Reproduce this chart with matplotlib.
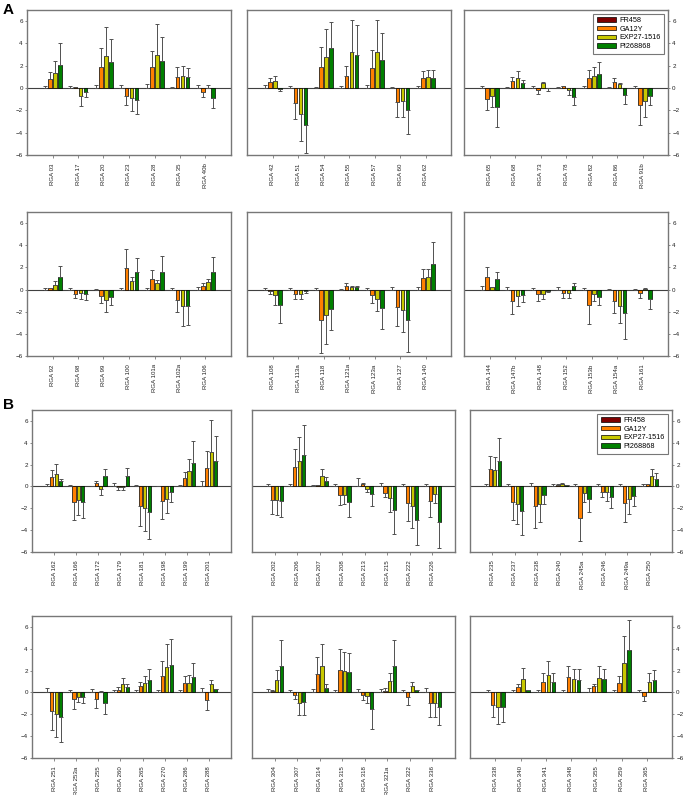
import numpy as np
import matplotlib.pyplot as plt

plt.rcParams['font.family'] = ['Liberation Sans', 'DejaVu Sans']

series = ['FR458', 'GA12Y', 'EXP27-1516', 'PI268868']
colors = ['#7f0000', '#ff8000', '#c8c800', '#008000']

# ---- panel A, top row ----
a1_labels = ['RGA 03', 'RGA 17', 'RGA 20', 'RGA 23', 'RGA 28', 'RGA 35', 'RGA 40b']
a1_mean = [[0, 0, 0, 0, 0, 0, 0],
           [0.78, 0.08, 1.87, -0.72, 1.87, 0.96, -0.36],
           [1.35, -0.72, 2.86, -0.9, 3.0, 1.11, 0.02],
           [2.08, -0.33, 2.32, -1.08, 2.41, 0.96, -0.87]]
a1_err = [[0.2, 0.18, 0.3, 0.3, 0.4, 0.1, 0.25],
          [0.67, 0.05, 1.71, 0.78, 1.41, 0.9, 0.42],
          [1.05, 0.93, 2.6, 1.12, 2.72, 0.9, 0.28],
          [1.93, 0.47, 2.1, 1.27, 2.14, 0.85, 0.93]]

a2_labels = ['RGA 42', 'RGA 51', 'RGA 54', 'RGA 55', 'RGA 57', 'RGA 60', 'RGA 62']
a2_mean = [[0, 0, 0, 0, 0, 0, 0],
           [0.57, -1.33, 1.9, 1.05, 1.81, -1.23, 0.87],
           [0.66, -2.29, 2.77, 3.19, 3.19, -1.14, 0.96],
           [-0.05, -3.28, 3.55, 3.01, 2.53, -1.99, 0.93]]
a2_err = [[0.27, 0.15, 0.1, 0.18, 0.27, 0.09, 0.15],
          [0.36, 1.44, 1.8, 0.94, 1.62, 1.33, 0.64],
          [0.39, 2.47, 2.56, 2.95, 2.95, 1.42, 0.7],
          [0.19, 2.53, 2.41, 2.68, 2.38, 2.17, 0.73]]

a3_labels = ['RGA 65', 'RGA 68', 'RGA 73', 'RGA 78', 'RGA 82', 'RGA 86', 'RGA 91b']
a3_mean = [[0, 0, 0, 0, 0, 0, 0],
           [-0.94, 0.6, -0.21, 0.18, 0.91, 0.55, -1.55],
           [-0.7, 0.91, 0.42, -0.18, 1.12, 0.33, -1.18],
           [-1.67, 0.45, -0.02, -0.76, 1.27, -0.64, -0.67]]
a3_err = [[0.15, 0.09, 0.15, 0.09, 0.18, 0.12, 0.18],
          [1.03, 0.43, 0.34, 0.03, 0.69, 0.33, 1.72],
          [0.97, 0.61, 0.13, 0.42, 0.79, 0.12, 1.37],
          [1.78, 0.28, 0.25, 0.79, 1.09, 0.75, 0.81]]

# ---- panel A, bottom row ----
a4_labels = ['RGA 92', 'RGA 98', 'RGA 99', 'RGA 100', 'RGA 101a', 'RGA 102a', 'RGA 106']
a4_mean = [[0, 0, 0, 0, 0, 0, 0],
           [0.1, -0.36, -0.55, 1.94, 0.97, -0.97, 0.36],
           [0.45, -0.33, -0.91, 0.73, 0.58, -1.48, 0.64],
           [1.12, -0.39, -0.64, 1.55, 1.61, -1.48, 1.61]]
a4_err = [[0.15, 0.18, 0.09, 0.12, 0.18, 0.12, 0.24],
          [0.05, 0.43, 0.69, 1.76, 0.79, 1.06, 0.19],
          [0.31, 0.55, 1.09, 0.42, 0.3, 1.79, 0.33],
          [0.97, 0.58, 0.78, 1.27, 1.42, 1.7, 1.3]]

a5_labels = ['RGA 108', 'RGA 113a', 'RGA 118', 'RGA 121a', 'RGA 123a', 'RGA 127', 'RGA 140']
a5_mean = [[0, 0, 0, 0, 0, 0, 0],
           [-0.15, -0.39, -2.73, 0.33, -0.52, -1.55, 1.0],
           [-0.52, -0.39, -2.3, 0.27, -0.82, -1.82, 1.09],
           [-1.39, -0.12, -1.73, 0.27, -1.7, -2.73, 2.27]]
a5_err = [[0.15, 0.18, 0.15, 0.09, 0.18, 0.27, 0.27],
          [0.27, 0.49, 2.97, 0.22, 0.66, 1.75, 0.82],
          [0.84, 0.49, 2.58, 0.03, 1.09, 1.97, 0.79],
          [1.64, 0.21, 1.91, 0.02, 1.85, 2.88, 2.06]]

a6_labels = ['RGA 144', 'RGA 147b', 'RGA 148', 'RGA 152', 'RGA 153b', 'RGA 154a', 'RGA 161']
a6_mean = [[0, 0, 0, 0, 0, 0, 0],
           [1.09, -1.0, -0.39, -0.3, -1.42, -1.0, -0.27],
           [0.24, -0.61, -0.36, -0.3, -0.39, -1.45, 0.05],
           [0.91, -0.52, -0.1, 0.3, -0.64, -2.09, -0.82]]
a6_err = [[0.36, 0.27, 0.15, 0.27, 0.18, 0.09, 0.09],
          [0.91, 1.21, 0.61, 0.49, 1.67, 1.15, 0.46],
          [0.03, 0.87, 0.52, 0.49, 0.67, 1.61, 0.13],
          [0.7, 0.63, 0.1, 0.25, 0.78, 2.36, 0.97]]

# ---- panel B, top row ----
b1_labels = ['RGA 162', 'RGA 166', 'RGA 172', 'RGA 179', 'RGA 181', 'RGA 198', 'RGA 199', 'RGA 201']
b1_mean = [[0, 0, 0, 0, 0, 0, 0, 0],
           [0.86, -1.45, 0.34, -0.05, -1.75, -1.32, 0.74, 1.69],
           [1.11, -1.2, -0.22, -0.05, -1.94, -1.11, 1.38, 3.17],
           [0.49, -1.38, 0.92, 0.92, -2.31, -0.49, 2.12, 2.34]]
b1_err = [[0.22, 0.12, 0.06, 0.31, 0.12, 0.06, 0.15, 0.46],
          [0.68, 1.6, 0.15, 0.25, 1.85, 1.63, 0.61, 1.57],
          [0.98, 1.38, 0.52, 0.25, 2.18, 1.35, 1.17, 2.89],
          [0.22, 1.48, 0.68, 0.77, 2.46, 0.89, 2.0, 2.24]]

b2_labels = ['RGA 202', 'RGA 206', 'RGA 207', 'RGA 208', 'RGA 213', 'RGA 215', 'RGA 222', 'RGA 226']
b2_mean = [[0, 0, 0, 0, 0, 0, 0, 0],
           [-1.23, 1.82, 0.09, -0.77, 0.22, -0.62, -1.51, -1.29],
           [-1.23, 2.37, 0.92, -0.74, -0.22, -1.08, -1.82, -0.71],
           [-1.35, 2.92, 0.46, -1.38, -0.71, -2.15, -3.11, -3.29]]
b2_err = [[0.25, 0.25, 0.15, 0.22, 0.8, 0.31, 0.25, 0.25],
          [1.29, 1.6, 0.06, 0.92, 0.06, 0.33, 1.66, 1.51],
          [1.39, 2.18, 0.71, 0.89, 0.33, 1.26, 2.0, 0.83],
          [1.45, 2.74, 0.43, 1.39, 1.04, 2.16, 2.24, 2.37]]

b3_labels = ['RGA 235', 'RGA 237', 'RGA 238', 'RGA 240', 'RGA 245a', 'RGA 246', 'RGA 249a', 'RGA 250']
b3_mean = [[0, 0, 0, 0, 0, 0, 0, 0],
           [1.58, -1.45, -1.79, 0.12, -2.91, -0.48, -1.55, 0.21],
           [1.48, -1.64, -1.58, 0.27, -0.64, -0.55, -1.18, 0.94],
           [2.3, -2.21, -0.79, 0.12, -1.15, -0.94, -0.85, 0.7]]
b3_err = [[0.27, 0.18, 0.3, 0.18, 0.24, 0.18, 0.27, 0.18],
          [1.24, 1.61, 1.97, 0.06, 2.06, 0.49, 1.66, 0.03],
          [1.25, 1.78, 1.69, 0.09, 0.81, 0.78, 1.3, 0.7],
          [2.15, 2.24, 0.85, 0.03, 1.21, 1.03, 0.97, 0.57]]

# ---- panel B, bottom row ----
b4_labels = ['RGA 251', 'RGA 253a', 'RGA 255', 'RGA 260', 'RGA 265', 'RGA 270', 'RGA 286', 'RGA 288']
b4_mean = [[0, 0, 0, 0, 0, 0, 0, 0],
           [-1.68, -0.61, -0.64, 0.27, 0.61, 1.49, 0.85, -0.7],
           [-1.98, -0.4, 0.06, 0.76, 0.91, 2.35, 0.91, 0.73],
           [-2.26, -0.4, -0.95, 0.49, 1.13, 2.47, 1.43, 0.3]]
b4_err = [[0.37, 0.24, 0.3, 0.24, 0.24, 0.24, 0.24, 0.37],
          [1.77, 0.91, 0.79, 0.19, 0.39, 1.38, 0.67, 0.92],
          [2.14, 0.51, 0.09, 0.52, 0.58, 2.1, 0.68, 0.43],
          [2.31, 0.6, 1.06, 0.27, 1.0, 2.38, 1.28, 0.04]]

b5_labels = ['RGA 304', 'RGA 307', 'RGA 314', 'RGA 315', 'RGA 318', 'RGA 321a', 'RGA 322', 'RGA 336']
b5_mean = [[0, 0, 0, 0, 0, 0, 0, 0],
           [0.12, -0.21, 1.7, 2.06, -0.21, 0.15, -0.42, -1.0],
           [1.15, -0.97, 2.42, 1.94, -0.3, 1.03, 0.61, -0.94],
           [2.45, -0.91, 0.42, 1.88, -1.55, 2.45, 0.24, -1.36]]
b5_err = [[0.3, 0.24, 0.3, 0.24, 0.3, 0.3, 0.24, 0.39],
          [0.09, 0.4, 1.54, 1.91, 0.49, 0.24, 0.7, 1.21],
          [0.94, 1.12, 2.06, 1.73, 0.64, 0.73, 0.33, 1.27],
          [2.37, 1.12, 0.31, 1.73, 1.75, 2.34, 0.03, 1.58]]

b6_labels = ['RGA 338', 'RGA 340', 'RGA 341', 'RGA 348', 'RGA 355', 'RGA 359', 'RGA 365']
b6_mean = [[0, 0, 0, 0, 0, 0, 0],
           [-1.11, 0.49, 0.92, 1.38, 0.58, 0.89, -0.28],
           [-1.29, 1.2, 1.57, 1.2, 1.29, 2.68, 0.98],
           [-1.29, 0.22, 0.98, 1.17, 1.26, 3.88, 1.11]]
b6_err = [[0.18, 0.25, 0.25, 0.25, 0.37, 0.25, 0.25],
          [1.17, 0.31, 0.83, 1.02, 0.22, 0.62, 0.52],
          [1.57, 1.02, 1.35, 0.98, 1.11, 2.49, 0.84],
          [1.42, 0.03, 0.84, 1.01, 0.92, 2.74, 0.98]]

panels = [[(a1_labels, a1_mean, a1_err), (a2_labels, a2_mean, a2_err), (a3_labels, a3_mean, a3_err)],
          [(a4_labels, a4_mean, a4_err), (a5_labels, a5_mean, a5_err), (a6_labels, a6_mean, a6_err)],
          [(b1_labels, b1_mean, b1_err), (b2_labels, b2_mean, b2_err), (b3_labels, b3_mean, b3_err)],
          [(b4_labels, b4_mean, b4_err), (b5_labels, b5_mean, b5_err), (b6_labels, b6_mean, b6_err)]]

W, H = 685, 795
rows_y = [(10, 155), (212, 356), (410, 552), (616, 758)]
cols_a = [(27, 231), (247, 451), (464, 668)]
cols_b = [(32, 231), (252, 455), (470, 672)]
offs = [-0.3, -0.1, 0.1, 0.3]
spine_c = '#777777'

fig = plt.figure(figsize=(W / 100, H / 100), dpi=100)


def draw_panel(ax, labels, mean, err, col, legend):
    n = len(labels)
    x = np.arange(1, n + 1)
    for k in range(4):
        m = np.array(mean[k], dtype=float)
        e = np.array(err[k], dtype=float)
        lo = np.where(m < 0, e, 0)
        hi = np.where(m >= 0, e, 0)
        ax.bar(x + offs[k], m, 0.14, color=colors[k], edgecolor='black', linewidth=0.5,
               label=series[k], yerr=[lo, hi],
               error_kw=dict(ecolor='#505050', elinewidth=0.7, capsize=1.5, capthick=0.7))
    ax.axhline(0, color='#404040', lw=0.8, zorder=0.8)
    ax.set_xlim(0, n + 1)
    ax.set_ylim(-6, 7)
    ax.set_yticks(np.arange(-6, 7, 2))
    ax.set_xticks(x)
    ax.set_xticklabels(labels, rotation=90, fontsize=4.4, color='#222222')
    ax.tick_params(axis='x', length=2, width=0.6, pad=4, color=spine_c)
    ax.tick_params(axis='y', labelsize=4.5, length=1.5, width=0.6, pad=1.5,
                   color=spine_c, labelcolor='#222222')
    if col == 2:
        ax.yaxis.tick_right()
    elif col == 1:
        ax.tick_params(axis='y', left=False, labelleft=False)
    for s in ax.spines.values():
        s.set_color(spine_c)
        s.set_linewidth(1.0)
    if legend:
        leg = ax.legend(loc='upper right', fontsize=5.2, fancybox=False, framealpha=1,
                        edgecolor=spine_c, handlelength=2.6, handleheight=0.55,
                        labelspacing=0.22, borderpad=0.5, borderaxespad=0.5,
                        handletextpad=0.5)
        leg.get_frame().set_linewidth(0.8)


for r in range(4):
    y0, y1 = rows_y[r]
    cols = cols_a if r < 2 else cols_b
    for c in range(3):
        x0, x1 = cols[c]
        ax = fig.add_axes([x0 / W, 1 - y1 / H, (x1 - x0) / W, (y1 - y0) / H])
        labels, mean, err = panels[r][c]
        draw_panel(ax, labels, mean, err, c, legend=(c == 2 and r in (0, 2)))

fig.text(3 / W, 1 - 3 / H, 'A', fontsize=11, fontweight='bold', va='top', ha='left')
fig.text(3 / W, 1 - 398 / H, 'B', fontsize=11, fontweight='bold', va='top', ha='left')

fig.savefig('out.png', dpi=100, facecolor='white')
